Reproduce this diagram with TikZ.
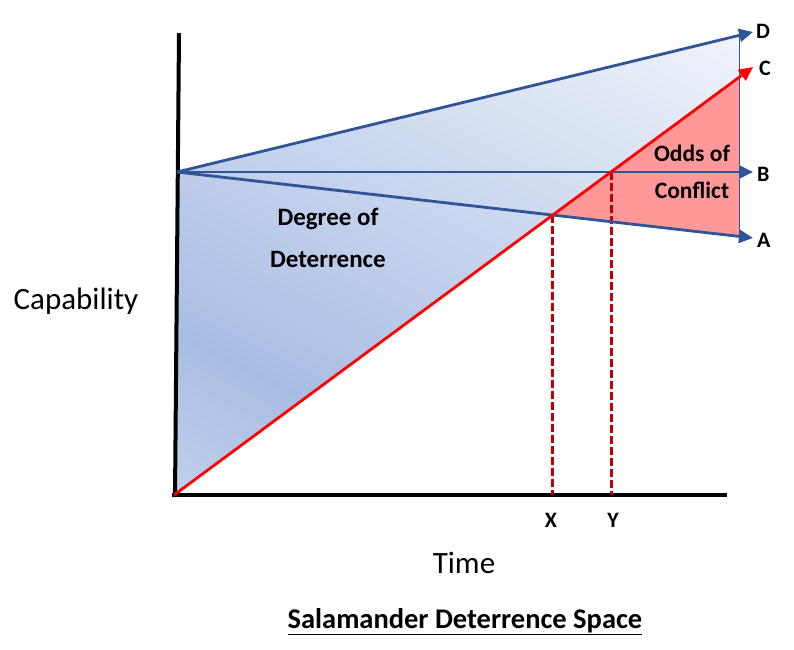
\documentclass[tikz,border=0pt]{standalone}
\usepackage{fontspec}
\setmainfont{Carlito}
\usetikzlibrary{arrows.meta}
\definecolor{lineblue}{HTML}{2F5597}
\definecolor{conflictred}{HTML}{FF9999}
\definecolor{dashred}{HTML}{C00000}
\definecolor{shA}{HTML}{CAD7EE}
\definecolor{shB}{HTML}{C3D2EC}
\definecolor{shC}{HTML}{A9BDE4}
\definecolor{shD}{HTML}{F0F4FA}
\definecolor{shE}{HTML}{F8FAFD}
\pgfdeclarehorizontalshading{deterrence}{100bp}{color(0bp)=(shA); color(15bp)=(shB); color(31bp)=(shC); color(84bp)=(shD); color(100bp)=(shE)}
\tikzset{
  axisline/.style={line width=4pt, black},
  bluearrow/.style={line width=2.8pt, lineblue, -{Triangle[length=14pt,width=13pt]}},
  redarrow/.style={line width=2.8pt, red, -{Triangle[length=14pt,width=13pt]}},
  droplines/.style={line width=2.6pt, dashred, dash pattern=on 8pt off 3pt},
  endlabel/.style={font=\fontsize{22}{24}\selectfont\bfseries, anchor=west, inner sep=0pt},
  ticklabel/.style={font=\fontsize{22}{24}\selectfont\bfseries, inner sep=0pt},
  arealabel/.style={font=\fontsize{25}{42}\selectfont\bfseries, align=center, inner sep=0pt},
  oddslabel/.style={font=\fontsize{23.5}{37}\selectfont\bfseries, align=center, inner sep=0pt},
  axislabel/.style={font=\fontsize{31}{34}\selectfont, inner sep=0pt},
}
\begin{document}
\begin{tikzpicture}[x=1pt,y=-1pt]
\useasboundingbox (0,0) rectangle (794,649);
% key points
\coordinate (O) at (174,495);
\coordinate (P) at (177,172);
\coordinate (Dend) at (753,32);
\coordinate (Cend) at (753,67);
\coordinate (Bend) at (753,172);
\coordinate (Aend) at (753,238);
\coordinate (Dedge) at (739,35.4);
\coordinate (Cedge) at (739,77.6);
\coordinate (Aedge) at (739,236.5);
\coordinate (Xpt) at (552.7,215.1);
\coordinate (Ypt) at (611.5,172);
\coordinate (Xbase) at (552.7,495);
\coordinate (Ybase) at (611.5,495);
\coordinate (Ytop) at (179,33);
\coordinate (Ybot) at (175,497);
\coordinate (Xright) at (727,495);
\coordinate (Oleft) at (172,495);
% deterrence area
\shade[shading=deterrence, shading angle=63]
  (P) -- (Dedge) -- (Cedge) -- (O) -- (175,495) -- cycle;
% conflict area
\fill[conflictred] (Xpt) -- (Cedge) -- (Aedge) -- cycle;
\draw[lineblue, line width=0.8pt] (Dedge) -- (Aedge);
% axes
\draw[axisline] (Ytop) -- (Ybot);
\draw[axisline] (Oleft) -- (Xright);
% dashed drop lines
\draw[droplines] (Xpt) -- (Xbase);
\draw[droplines] (Ypt) -- (Ybase);
% arrows
\draw[bluearrow] (P) -- (Dend);
\draw[bluearrow] (P) -- (Bend);
\draw[bluearrow] (P) -- (Aend);
\draw[redarrow] (O) -- (Cend);
% labels
\node[endlabel] (D) at (756,31) {D};
\node[endlabel] (C) at (759,68) {C};
\node[endlabel] (B) at (757,174) {B};
\node[endlabel] (A) at (757,240) {A};
\node[ticklabel] (X) at (551,520) {X};
\node[ticklabel] (Y) at (613,520) {Y};
\node[arealabel] (deg) at (328,238) {Degree of\\Deterrence};
\node[oddslabel] (odds) at (692,172) {Odds of\\Conflict};
\node[axislabel] (cap) at (76,301) {Capability};
\node[axislabel] (time) at (464,563) {Time};
\node[font=\fontsize{28.5}{32}\selectfont\bfseries, inner sep=0pt] (title) at (465,622) {\underline{Salamander Deterrence Space}};
\end{tikzpicture}
\end{document}
